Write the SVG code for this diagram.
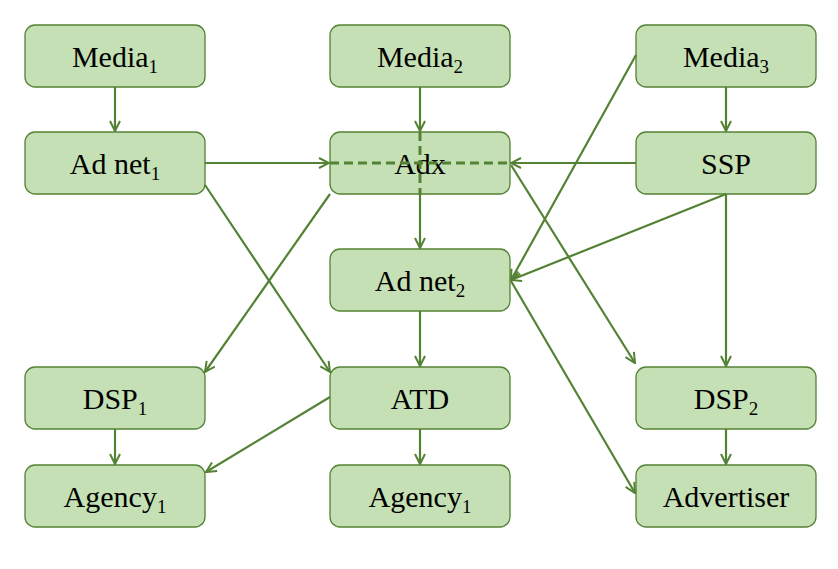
<svg xmlns="http://www.w3.org/2000/svg" width="838" height="569" viewBox="0 0 838 569">
<defs>
<style>
.box{fill:#c5e0b4;stroke:#548235;stroke-width:1.3}
.c{stroke:#548235;stroke-width:2.2;fill:none}
.d{stroke:#548235;stroke-width:3;fill:none;stroke-dasharray:9,5}
text{font-family:'Liberation Serif','Times New Roman','DejaVu Serif',serif}
</style>
<marker id="a" viewBox="0 0 12 12" refX="11" refY="6" markerWidth="12" markerHeight="12" markerUnits="userSpaceOnUse" orient="auto">
<path d="M1,1 L11,6 L1,11" fill="none" stroke="#548235" stroke-width="2"/>
</marker>
</defs>
<rect width="838" height="569" fill="#fff"/>
<g font-family="'Liberation Serif', 'Times New Roman', 'DejaVu Serif', serif" font-size="30" fill="#000" text-anchor="middle">
<g id="media1"><rect class="box" x="25" y="25" width="180" height="62" rx="10"/><text x="115" y="67">Media<tspan font-size="19" dy="6">1</tspan></text></g>
<g id="media2"><rect class="box" x="330" y="25" width="180" height="62" rx="10"/><text x="420" y="67">Media<tspan font-size="19" dy="6">2</tspan></text></g>
<g id="media3"><rect class="box" x="636" y="25" width="180" height="62" rx="10"/><text x="726" y="67">Media<tspan font-size="19" dy="6">3</tspan></text></g>
<g id="adnet1"><rect class="box" x="25" y="132" width="180" height="62" rx="10"/><text x="115" y="174">Ad net<tspan font-size="19" dy="6">1</tspan></text></g>
<g id="adx"><rect class="box" x="330" y="132" width="180" height="62" rx="10"/><text x="420" y="174">Adx</text></g>
<g id="ssp"><rect class="box" x="636" y="132" width="180" height="62" rx="10"/><text x="726" y="174">SSP</text></g>
<g id="adnet2"><rect class="box" x="330" y="249" width="180" height="62" rx="10"/><text x="420" y="291">Ad net<tspan font-size="19" dy="6">2</tspan></text></g>
<g id="dsp1"><rect class="box" x="25" y="367" width="180" height="62" rx="10"/><text x="115" y="409">DSP<tspan font-size="19" dy="6">1</tspan></text></g>
<g id="atd"><rect class="box" x="330" y="367" width="180" height="62" rx="10"/><text x="420" y="409">ATD</text></g>
<g id="dsp2"><rect class="box" x="636" y="367" width="180" height="62" rx="10"/><text x="726" y="409">DSP<tspan font-size="19" dy="6">2</tspan></text></g>
<g id="agency1a"><rect class="box" x="25" y="465" width="180" height="62" rx="10"/><text x="115" y="507">Agency<tspan font-size="19" dy="6">1</tspan></text></g>
<g id="agency1b"><rect class="box" x="330" y="465" width="180" height="62" rx="10"/><text x="420" y="507">Agency<tspan font-size="19" dy="6">1</tspan></text></g>
<g id="advertiser"><rect class="box" x="636" y="465" width="180" height="62" rx="10"/><text x="726" y="507">Advertiser</text></g>
</g>
<g id="connectors">
<line class="c" x1="115" y1="87" x2="115" y2="131" marker-end="url(#a)"/>
<line class="c" x1="420" y1="87" x2="420" y2="131" marker-end="url(#a)"/>
<line class="d" x1="420" y1="132" x2="420" y2="194"/>
<line class="c" x1="420" y1="194" x2="420" y2="248" marker-end="url(#a)"/>
<line class="c" x1="726" y1="87" x2="726" y2="131" marker-end="url(#a)"/>
<line class="c" x1="205" y1="163" x2="329" y2="163" marker-end="url(#a)"/>
<line class="d" x1="330" y1="163" x2="510" y2="163"/>
<line class="c" x1="636" y1="163" x2="511" y2="163" marker-end="url(#a)"/>
<line class="c" x1="205" y1="185" x2="330" y2="372" marker-end="url(#a)"/>
<line class="c" x1="330" y1="194" x2="205" y2="372" marker-end="url(#a)"/>
<line class="c" x1="511" y1="165" x2="635" y2="363" marker-end="url(#a)"/>
<line class="c" x1="636" y1="55" x2="511" y2="280" marker-end="url(#a)"/>
<line class="c" x1="726" y1="194" x2="511" y2="280" marker-end="url(#a)"/>
<line class="c" x1="726" y1="194" x2="726" y2="366" marker-end="url(#a)"/>
<line class="c" x1="420" y1="311" x2="420" y2="366" marker-end="url(#a)"/>
<line class="c" x1="511" y1="281" x2="635" y2="493" marker-end="url(#a)"/>
<line class="c" x1="330" y1="397" x2="206" y2="472" marker-end="url(#a)"/>
<line class="c" x1="115" y1="429" x2="115" y2="464" marker-end="url(#a)"/>
<line class="c" x1="420" y1="429" x2="420" y2="464" marker-end="url(#a)"/>
<line class="c" x1="726" y1="429" x2="726" y2="464" marker-end="url(#a)"/>
</g>
</svg>
